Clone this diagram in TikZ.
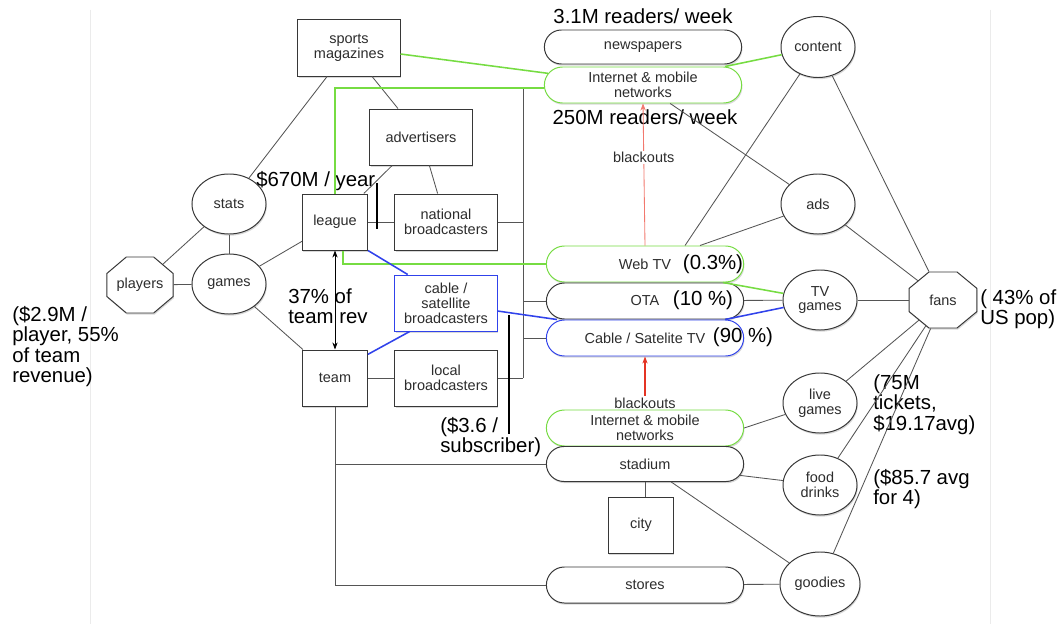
\documentclass[tikz,border=0pt]{standalone}
\usepackage{fontspec}
\setmainfont{Liberation Sans}
\usetikzlibrary{
  arrows.meta,
  shapes.geometric,
  shapes.misc,
  shadows,
  calc
}
\definecolor{cedge}{RGB}{55,55,55}
\definecolor{clink}{RGB}{85,85,85}
\definecolor{ctext}{RGB}{45,45,45}
\definecolor{cgreen}{RGB}{118,220,66}
\definecolor{cblue}{RGB}{48,66,235}
\definecolor{cred}{RGB}{228,52,36}
\definecolor{lred}{RGB}{242,120,110}
\tikzset{
  base/.style={
    draw=cedge, fill=white, line width=0.7pt, text=ctext,
    font=\fontsize{10.3}{10.6}\selectfont, align=center, inner sep=1pt,
    drop shadow={shadow xshift=0.6pt, shadow yshift=-1.2pt, opacity=0.3}
  },
  org/.style={
    base, rectangle, minimum width=2.55cm, minimum height=1.4cm
  },
  orgS/.style={
    org, minimum width=1.625cm
  },
  orgB/.style={
    org, draw=cblue
  },
  hub/.style={
    base, ellipse, minimum width=1.85cm, minimum height=1.5cm
  },
  actor/.style={
    base, regular polygon, regular polygon sides=8,
    minimum size=1.515cm, xscale=#1, transform shape
  },
  actor/.default=1.18,
  channel/.style={
    base, rounded rectangle, minimum width=5cm, minimum height=0.9cm
  },
  channelG/.style={
    channel, draw=cgreen
  },
  channelB/.style={
    channel, draw=cblue
  },
  note/.style={
    font=\fontsize{14.5}{14.6}\selectfont, align=left, inner sep=0pt
  },
  lbl/.style={
    font=\fontsize{10.3}{10.6}\selectfont, text=ctext, inner sep=1pt
  },
  link/.style={draw=clink, line width=0.6pt},
  glink/.style={draw=cgreen, line width=1.1pt},
  blink/.style={draw=cblue, line width=1.1pt},
  bar/.style={draw=black, line width=1.8pt},
  arr/.style={-{Stealth[length=5pt]}, line width=0.7pt, color=#1},
  arr/.default=black,
  arrs/.style={{Stealth[length=5pt]}-{Stealth[length=5pt]}, line width=0.6pt}
}
\begin{document}
\begin{tikzpicture}[x=0.025cm, y=-0.025cm]
    \useasboundingbox (0,0) rectangle (1060,624);
    \fill[white] (0,0) rectangle (1060,624);
    \draw[black!8, line width=0.5pt] (90,10) -- (90,624);
    \draw[black!8, line width=0.5pt] (990,10) -- (990,624);

    %% ---- LEFT: producers ------------------------------------------
    \node[org]    (mag)     at (349,48)  {sports\\magazines};
    \node[org]    (adv)     at (421,137) {advertisers};
    \node[hub]    (stats)   at (229,204) {stats};
    \node[hub]    (games)   at (229,284) {games};
    \node[actor]  (players) at (140,285) {};
    \node[lbl]    (playersT) at (players) {players};
    \node[orgS]   (league)  at (335,222) {league};
    \node[orgS]   (team)    at (335,378) {team};
    \node[org]    (natb)    at (446,222) {national\\broadcasters};
    \node[orgB]   (cabb)    at (446,303) {cable /\\satellite\\broadcasters};
    \node[org]    (locb)    at (446,378) {local\\broadcasters};

    %% ---- MIDDLE: channels -----------------------------------------
    \node[channel, minimum height=0.85cm] (news) at (643,47) {newspapers};
    \node[channelG] (inet)    at (643,85)  {Internet \& mobile\\networks};
    \node[channelG] (webtv)   at (645,264) {Web TV};
    \node[channel]  (ota)     at (645,301) {OTA};
    \node[channelB] (cabtv)   at (645,338) {Cable / Satelite TV};
    \node[channelG] (inet2)   at (645,428) {Internet \& mobile\\networks};
    \node[channel, minimum height=0.875cm] (stadium) at (645,464) {stadium};
    \node[orgS]     (city)    at (641,525) {city};
    \node[channel]  (stores)  at (645,585) {stores};

    %% ---- RIGHT: audience ------------------------------------------
    \node[hub, minimum height=1.525cm] (content) at (818,47) {content};
    \node[hub]    (ads)     at (818,204) {ads};
    \node[hub]    (tvg)     at (820,300) {TV\\games};
    \node[actor=1.21] (fans) at (943,300) {};
    \node[lbl]    (fansT)   at (fans) {fans};
    \node[hub]    (live)    at (820,403) {live\\games};
    \node[hub]    (food)    at (820,485) {food\\drinks};
    \node[hub, minimum width=2cm, minimum height=1.6cm]
      (goodies) at (820,584) {goodies};

    %% ---- figures --------------------------------------------------
    \node[note, anchor=west] (fee)   at (256,181) {\$670M / year};
    \node[note] (read1) at (643,16)  {3.1M readers/ week};
    \node[note] (read2) at (645,117) {250M readers/ week};
    \node[note, anchor=north west] (pay)  at (12,306)
      {(\$2.9M /\\player, 55\%\\of team\\revenue)};
    \node[note, anchor=north west] (rev)  at (288,288) {37\% of\\team rev};
    \node[note, anchor=north west] (sub)  at (440,417) {(\$3.6 /\\subscriber)};
    \node[note, anchor=north west] (tix)  at (873,374)
      {(75M\\tickets,\\\$19.17avg)};
    \node[note, anchor=north west] (fd)   at (873,469) {(\$85.7 avg\\for 4)};
    \node[note, anchor=north west] (pop)  at (980,289) {( 43\% of\\US pop)};
    \node[note] (pweb) at (713,264) {(0.3\%)};
    \node[note] (pota) at (703,300) {(10 \%)};
    \node[note] (pcab) at (743,337) {(90 \%)};
    \node[lbl]  (bl2)  at (645,403) {blackouts};

    %% ---- plain links ----------------------------------------------
    \coordinate (busT) at (523,88);
    \coordinate (busB) at (523,378);
    \draw[link] (busT) -- (busB);
    \draw[link] (busT) -- (busT -| inet.west);
    \draw[link] (natb.east) -- (natb.east -| busT);
    \draw[link] (locb.east) -- (locb.east -| busT);
    \draw[link] (ota.west -| busT) -- (ota.west);
    \draw[link] (cabtv.west -| busT) -- (cabtv.west);

    \draw[link] (mag) -- (stats);
    \draw[link] (mag) -- (adv);
    \draw[link] (adv) -- (league);
    \draw[link] (adv) -- (natb);
    \draw[link] (league) -- (natb);
    \draw[link] (stats) -- (players);
    \draw[link] (stats) -- (games);
    \draw[link] (players) -- (games);
    \draw[link] (games) -- (league);
    \draw[link] (games) -- (team);
    \draw[link] (team) -- (locb);
    \draw[link] (team.south) |- (stadium.west);
    \draw[link] (team.south) |- (stores.west);

    \draw[link] (inet) -- (ads);
    \draw[link] ([xshift=1cm]webtv.north) -- (content);
    \draw[link] ([xshift=1.375cm]webtv.north) -- (ads);
    \draw[link] (content) -- (fans);
    \draw[link] (ads) -- (fans);
    \draw[link] (ota) -- (tvg);
    \draw[link] (tvg) -- (fans);
    \draw[link] (fans) -- (live);
    \draw[link] (fans) -- (food);
    \draw[link] (fans) -- (goodies);
    \draw[link] (inet2.east) -- (live);
    \draw[link] (stadium) -- (food);
    \draw[link] (stadium) -- (goodies);
    \draw[link] (stadium.south) -- (stadium.south |- city.north);
    \draw[link] (stores) -- (goodies);

    \draw[arrs] (league.south) -- (team.north);

    %% ---- internet links (green) -----------------------------------
    \draw[glink] ([yshift=-0.15cm]mag.east) -- (inet.173);
    \draw[glink] (content.192) -- ([xshift=2.05cm]inet.north);
    \draw[glink] (league.north) -- (league.north |- busT) -- (busT -| inet.west);
    \draw[glink] ([xshift=0.2cm]league.south) |- (webtv.west);
    \draw[glink] ([xshift=1.95cm]webtv.south) -- (tvg);

    %% ---- cable links (blue) ---------------------------------------
    \draw[blink] (league.south east) -- ([xshift=0.33cm]cabb.north west);
    \draw[blink] ([yshift=-0.12cm]team.north east) -- ([xshift=0.38cm]cabb.south west);
    \draw[blink] ([yshift=-0.2cm]cabb.east) -- ([xshift=-2.2cm]cabtv.north);
    \draw[blink] ([xshift=2cm]cabtv.north) -- (tvg);

    %% ---- blackouts ------------------------------------------------
    \draw[arr=lred, line width=0.6pt] (webtv.north) --
      node[lbl, pos=0.62, fill=white] (bl1) {blackouts} (inet.south);
    \draw[arr=cred, line width=1.1pt] (bl2.north) -- (cabtv.south);

    %% ---- fee marks ------------------------------------------------
    \coordinate (bar1t) at (377,183);
    \coordinate (bar1b) at (377,229);
    \coordinate (bar2t) at (509,315);
    \coordinate (bar2b) at (509,434);
    \draw[bar] (bar1t) -- (bar1b);
    \draw[bar] (bar2t) -- (bar2b);

\end{tikzpicture}
\end{document}
